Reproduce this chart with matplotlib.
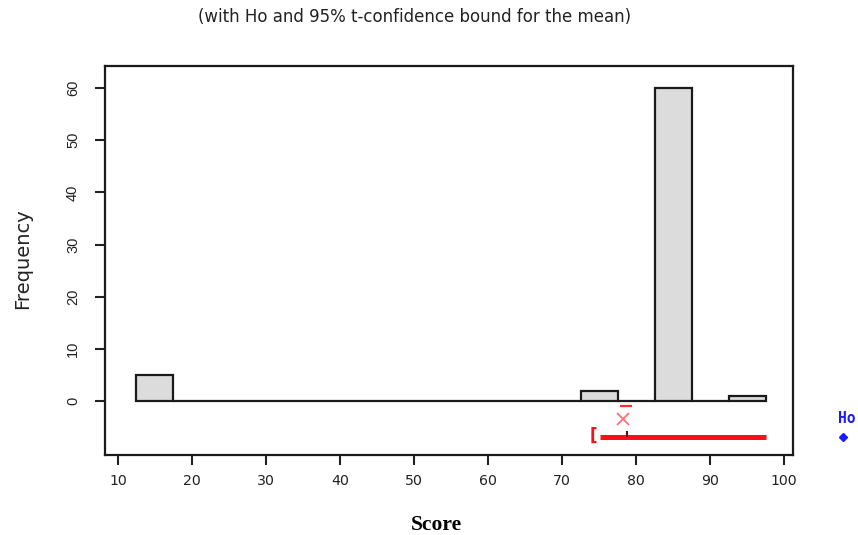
import matplotlib
matplotlib.use("Agg")
import matplotlib.pyplot as plt
import numpy as np

# Histogram of scores: bin edges (width 5) and counts per bin
bin_edges = np.arange(12.5, 97.5 + 0.1, 5.0)
counts = [5, 0, 0, 0, 0, 0, 0, 0, 0, 0, 0, 0, 2, 0, 60, 0, 1]

# One-sample t summary
sample_mean = 78.8
lower_bound = 75.1
bound_line_end = 97.6
h0_value = 108.0

x_ticks = [10, 20, 30, 40, 50, 60, 70, 80, 90, 100]
y_ticks = [0, 10, 20, 30, 40, 50, 60]

plt.rcParams['font.family'] = ['DejaVu Sans']

fig = plt.figure(figsize=(8.58, 5.35), dpi=100)
ax = fig.add_axes([0.1224, 0.1495, 0.8018, 0.7271])

lefts = bin_edges[:-1]
ax.bar(lefts, counts, width=5.0, align='edge', color='#dcdcdc',
       edgecolor='#1a1a1a', linewidth=1.6, zorder=2)

# Confidence bound for the mean
y_ci = -6.8
ax.plot([lower_bound, bound_line_end], [y_ci, y_ci], color='#ff1010',
        linewidth=3.6, solid_capstyle='butt', zorder=3)
ax.text(lower_bound - 0.3, y_ci + 0.1, '[', color='#ff1010', fontsize=12,
        fontweight='bold', ha='right', va='center', zorder=3)
ax.plot([sample_mean], [y_ci + 0.45], marker='|', color='#8b0000',
        markersize=4, markeredgewidth=1.5, zorder=4)
ax.plot([sample_mean - 0.5], [-3.4], marker='x', color='#ff7070',
        markersize=8, markeredgewidth=1.3, zorder=3)
ax.plot([sample_mean - 0.2], [-1.0], marker='_', color='#ff3030',
        markersize=8, markeredgewidth=1.6, zorder=3)

# Hypothesized mean (falls beyond the right edge)
ax.plot([h0_value], [y_ci], marker='D', color='#1a1aff', markersize=4,
        clip_on=False, zorder=4)
ax.text(h0_value - 0.7, -3.4, 'Ho', color='#1a1aff', fontsize=10.5,
        fontweight='bold', family='DejaVu Sans Mono', ha='left',
        va='center', clip_on=False)

ax.set_xlim(8.25, 101.2)
ax.set_ylim(-10.3, 64.2)
ax.set_xticks(x_ticks)
ax.set_yticks(y_ticks)
ax.set_yticklabels([str(v) for v in y_ticks], rotation=90, va='center',
                   family='Liberation Sans', fontsize=10.5)
ax.tick_params(axis='both', direction='out', length=7, width=1.5,
               color='#222222', labelcolor='#222222')
ax.tick_params(axis='x', labelsize=10.2, pad=7)
ax.tick_params(axis='y', pad=11)
for s in ax.spines.values():
    s.set_linewidth(1.6)
    s.set_color('#1a1a1a')

ax.set_ylabel('Frequency', fontsize=14, color='#222222')
ax.yaxis.set_label_coords(-0.106, 0.506)
ax.set_xlabel('Score', fontsize=15.5, fontweight='bold',
              family=['Liberation Serif', 'DejaVu Serif'])
ax.xaxis.set_label_coords(0.481, -0.154)

fig.text(0.4837, 0.968, '(with Ho and 95% t-confidence bound for the mean)',
         ha='center', va='center', fontsize=12, color='#222222')

fig.savefig('out.png', dpi=100, facecolor='white')
